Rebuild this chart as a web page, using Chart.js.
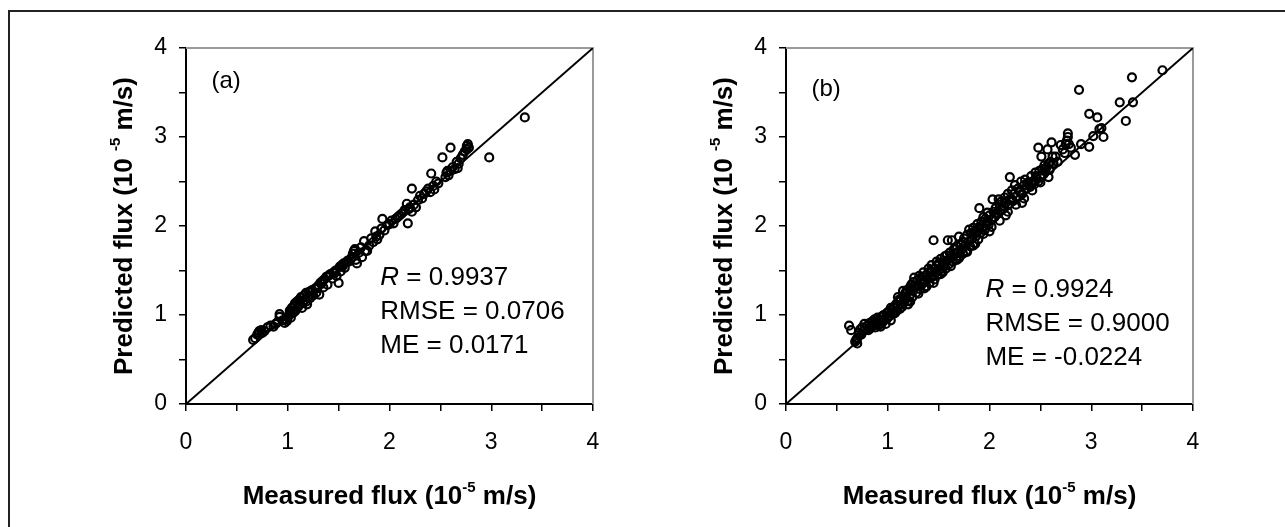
<!DOCTYPE html>
<html>
<head>
<meta charset="utf-8">
<script src="https://cdn.jsdelivr.net/npm/chart.js@4"></script>
<style>
  body { margin: 0; background: #fff; }
  #wrap { position: relative; width: 1285px; height: 527px; overflow: hidden; }
  #frame { position: absolute; left: 8px; top: 10px; width: 1285px; height: 527px;
           border-left: 2px solid #222; border-top: 2px solid #222; }
  canvas { position: absolute; top: 0; }
</style>
</head>
<body>
<div id="wrap">
  <div id="frame"></div>
  <canvas id="chartA" width="640" height="527" style="left:0"></canvas>
  <canvas id="chartB" width="645" height="527" style="left:640px"></canvas>
</div>
<script>
const FONT = '"Liberation Sans", Arial, sans-serif';

// axis range and tick step (units of 1e-5 m/s)
const axisMin = 0;
const axisMax = 4;
const tickStep = 0.5;
const oneToOne = [0, 4];

// panel (a)
const measuredA = [0.66,0.68,0.70,0.71,0.72,0.74,0.75,0.77,0.80,0.83,0.86,0.88,0.90,0.92,0.92,0.95,0.97,0.98,0.99,1.00,
  1.01,1.02,1.03,1.04,1.05,1.06,1.07,1.08,1.09,1.10,1.11,1.12,1.13,1.14,1.15,1.16,1.17,1.18,1.19,1.20,
  1.21,1.22,1.24,1.25,1.27,1.28,1.30,1.31,1.32,1.34,1.35,1.36,1.38,1.39,1.40,1.42,1.44,1.45,1.47,1.48,
  1.50,1.51,1.52,1.53,1.55,1.56,1.58,1.60,1.62,1.64,1.65,1.66,1.67,1.68,1.70,1.72,1.73,1.75,1.76,1.78,
  1.80,1.82,1.84,1.86,1.87,1.88,1.90,1.92,1.93,1.95,1.98,2.00,2.02,2.04,2.06,2.08,2.10,2.12,2.14,2.15,
  2.17,2.18,2.19,2.20,2.22,2.22,2.24,2.26,2.28,2.30,2.32,2.34,2.36,2.38,2.40,2.41,2.43,2.44,2.46,2.48,
  2.52,2.55,2.56,2.58,2.60,2.60,2.62,2.64,2.66,2.68,2.70,2.72,2.74,2.76,2.76,2.77,2.78,2.98,3.33,
  1.03,1.07,1.12,1.18,1.23,1.29,1.33,1.41,1.46,1.54,1.59,1.63,2.57,2.67];
const predictedA = [0.72,0.74,0.78,0.80,0.82,0.83,0.80,0.82,0.86,0.88,0.87,0.90,0.92,0.98,1.01,0.94,0.91,0.95,0.93,0.97,
  1.00,1.05,0.97,1.08,1.02,1.10,1.13,1.06,1.15,1.09,1.17,1.12,1.20,1.08,1.14,1.22,1.17,1.25,1.12,1.20,
  1.26,1.19,1.28,1.22,1.30,1.25,1.33,1.23,1.36,1.38,1.31,1.40,1.43,1.34,1.44,1.46,1.41,1.48,1.50,1.44,
  1.36,1.54,1.49,1.56,1.58,1.53,1.60,1.60,1.63,1.69,1.72,1.74,1.62,1.58,1.70,1.76,1.65,1.83,1.72,1.72,
  1.78,1.86,1.82,1.94,1.88,1.85,1.90,1.97,2.08,1.95,2.01,2.02,2.06,2.03,2.08,2.10,2.12,2.14,2.16,2.18,
  2.25,2.03,2.19,2.21,2.16,2.42,2.24,2.21,2.29,2.34,2.31,2.36,2.39,2.42,2.38,2.59,2.45,2.41,2.50,2.48,
  2.77,2.55,2.60,2.57,2.88,2.62,2.66,2.64,2.72,2.70,2.76,2.80,2.84,2.86,2.90,2.92,2.88,2.77,3.22,
  1.03,1.04,1.16,1.15,1.27,1.30,1.35,1.45,1.47,1.55,1.61,1.65,2.62,2.65];
const statsA = ['0.9937', '0.0706', '0.0171'];

// panel (b)
const measuredB = [0.62,0.64,0.68,0.69,0.70,0.70,0.72,0.73,0.74,0.75,0.76,0.77,0.78,0.80,0.81,0.82,0.84,0.85,0.86,0.87,
  0.88,0.89,0.90,0.91,0.92,0.93,0.94,0.95,0.96,0.97,0.98,0.99,1.00,1.01,1.02,1.03,1.04,1.05,1.06,1.07,
  1.08,1.09,1.10,1.10,1.11,1.12,1.13,1.14,1.15,1.15,1.16,1.17,1.18,1.19,1.20,1.21,1.22,1.23,1.24,1.25,
  1.25,1.26,1.27,1.28,1.29,1.30,1.31,1.32,1.33,1.34,1.35,1.36,1.37,1.38,1.39,1.40,1.41,1.42,1.43,1.44,
  1.45,1.45,1.46,1.47,1.48,1.49,1.50,1.51,1.52,1.53,1.54,1.55,1.56,1.57,1.58,1.59,1.60,1.61,1.62,1.63,
  1.64,1.65,1.66,1.67,1.68,1.69,1.70,1.71,1.72,1.73,1.74,1.75,1.76,1.77,1.78,1.79,1.80,1.81,1.82,1.83,
  1.84,1.85,1.86,1.87,1.88,1.89,1.90,1.90,1.91,1.92,1.93,1.94,1.95,1.96,1.97,1.98,1.99,2.00,2.02,2.03,
  2.04,2.05,2.06,2.08,2.09,2.10,2.11,2.12,2.14,2.15,2.16,2.18,2.19,2.20,2.20,2.22,2.23,2.24,2.25,2.26,
  2.28,2.30,2.31,2.32,2.34,2.35,2.36,2.38,2.40,2.41,2.42,2.44,2.45,2.46,2.48,2.48,2.49,2.50,2.51,2.52,
  2.53,2.54,2.55,2.56,2.57,2.58,2.59,2.60,2.61,2.62,2.63,2.65,2.67,2.70,2.72,2.74,2.75,2.76,2.77,2.77,
  2.78,2.80,2.84,2.88,2.90,2.98,2.98,3.02,3.06,3.08,3.10,3.12,3.28,3.34,3.40,3.41,3.70,
  0.83,0.87,0.91,0.95,0.99,1.03,1.07,1.11,1.14,1.18,1.22,1.26,1.30,1.34,1.38,1.42,1.46,1.50,1.54,1.58,
  1.62,1.66,1.70,1.74,1.78,1.82,1.86,1.90,1.94,1.98,2.02,2.06,2.10,2.14,2.18,2.22,2.26,2.30,2.34,2.38,
  2.42,2.46,2.50,2.54,2.58,2.62,1.20,1.36,1.52,1.68,1.84,2.00,2.16,2.32];
const predictedB = [0.88,0.83,0.70,0.72,0.74,0.68,0.80,0.84,0.78,0.86,0.82,0.90,0.85,0.88,0.83,0.91,0.87,0.93,0.89,0.95,
  0.86,0.92,0.97,0.90,0.94,0.87,0.98,0.92,1.00,0.95,0.90,1.02,0.97,1.04,0.99,0.94,1.06,1.01,1.09,1.03,
  1.12,1.05,1.20,1.10,1.15,1.07,1.18,1.12,1.27,1.21,1.14,1.24,1.18,1.28,1.16,1.30,1.23,1.34,1.20,1.37,
  1.27,1.42,1.31,1.25,1.39,1.33,1.44,1.29,1.40,1.35,1.48,1.38,1.32,1.45,1.41,1.52,1.36,1.47,1.56,1.43,
  1.36,1.84,1.52,1.48,1.60,1.45,1.56,1.51,1.63,1.49,1.58,1.54,1.66,1.52,1.61,1.84,1.57,1.70,1.64,1.84,
  1.60,1.74,1.68,1.63,1.77,1.71,1.88,1.66,1.80,1.74,1.69,1.86,1.78,1.72,1.90,1.82,1.96,1.77,1.92,1.86,
  1.98,1.81,1.94,1.89,2.02,1.85,2.20,1.97,1.92,2.05,1.99,2.10,1.95,2.08,2.03,2.15,2.01,2.12,2.07,2.30,
  2.16,2.10,2.20,2.14,2.30,2.24,2.18,2.28,2.22,2.32,2.26,2.36,2.24,2.55,2.30,2.40,2.28,2.36,2.46,2.33,
  2.42,2.38,2.50,2.36,2.46,2.52,2.42,2.49,2.44,2.56,2.50,2.47,2.60,2.54,2.88,2.50,2.62,2.56,2.78,2.64,
  2.58,2.68,2.61,2.66,2.86,2.70,2.63,2.72,2.94,2.78,2.70,2.78,2.72,2.91,2.86,2.82,2.92,2.96,3.00,3.04,
  2.92,2.88,2.80,3.53,2.92,2.89,3.26,3.01,3.22,3.09,3.10,3.00,3.39,3.18,3.67,3.39,3.75,
  0.85,0.93,0.88,0.99,0.96,1.08,1.02,1.17,1.09,1.26,1.15,1.33,1.24,1.43,1.32,1.50,1.40,1.58,1.48,1.67,
  1.55,1.74,1.64,1.82,1.71,1.92,1.80,1.99,1.91,2.06,1.99,2.14,2.06,2.22,2.16,2.30,2.24,2.40,2.31,2.47,
  2.40,2.56,2.49,2.64,2.55,2.70,1.12,1.30,1.46,1.62,1.78,1.94,2.12,2.26];
const statsB = ['0.9924', '0.9000', '-0.0224'];

function toPoints(xs, ys) {
  return xs.map((x, i) => ({ x: x, y: ys[i] }));
}

// draws a run of text pieces, some raised as superscripts, centred on (cx, cy)
function drawSupText(ctx, parts, cx, cy) {
  let total = 0;
  parts.forEach(p => {
    ctx.font = p.sup ? 'bold 15px ' + FONT : 'bold 26px ' + FONT;
    p.w = ctx.measureText(p.t).width;
    total += p.w;
  });
  let x = cx - total / 2;
  ctx.textAlign = 'left';
  ctx.textBaseline = 'middle';
  parts.forEach(p => {
    ctx.font = p.sup ? 'bold 15px ' + FONT : 'bold 26px ' + FONT;
    ctx.fillText(p.t, x, p.sup ? cy - 9 : cy);
    x += p.w;
  });
}

const decor = {
  id: 'decor',
  beforeDatasetsDraw(chart) {
    const ctx = chart.ctx, a = chart.chartArea;
    ctx.save();
    ctx.strokeStyle = '#9a9a9a';
    ctx.lineWidth = 2;
    ctx.beginPath();
    ctx.moveTo(a.left, a.top);
    ctx.lineTo(a.right, a.top);
    ctx.lineTo(a.right, a.bottom);
    ctx.stroke();
    ctx.restore();
  },
  afterDraw(chart, args, opts) {
    const ctx = chart.ctx, a = chart.chartArea;
    const xs = chart.scales.x, ys = chart.scales.y;
    ctx.save();
    ctx.fillStyle = '#000';

    // panel tag
    ctx.font = '24px ' + FONT;
    ctx.textAlign = 'left';
    ctx.textBaseline = 'middle';
    ctx.fillText(opts.tag, xs.getPixelForValue(opts.tagAt[0]), ys.getPixelForValue(opts.tagAt[1]));

    // statistics block
    const sx = xs.getPixelForValue(opts.statAt[0]);
    let sy = ys.getPixelForValue(opts.statAt[1]);
    ctx.textBaseline = 'alphabetic';
    ctx.font = 'italic 26px ' + FONT;
    ctx.fillText('R', sx, sy);
    const rw = ctx.measureText('R').width;
    ctx.font = '26px ' + FONT;
    ctx.fillText(' = ' + opts.stats[0], sx + rw, sy);
    sy += 34;
    ctx.fillText('RMSE = ' + opts.stats[1], sx, sy);
    sy += 34;
    ctx.fillText('ME = ' + opts.stats[2], sx, sy);

    // axis titles
    drawSupText(ctx, [{ t: 'Measured flux (10' }, { t: '-5', sup: true }, { t: ' m/s)' }],
      (a.left + a.right) / 2, a.bottom + 93);
    ctx.translate(a.left - 61, (a.top + a.bottom) / 2);
    ctx.rotate(-Math.PI / 2);
    drawSupText(ctx, [{ t: 'Predicted flux (10 ' }, { t: '-5', sup: true }, { t: ' m/s)' }], 0, 0);
    ctx.restore();
  }
};

function axis(extra) {
  return Object.assign({
    type: 'linear',
    min: axisMin,
    max: axisMax,
    border: { display: true, color: '#000', width: 2 },
    grid: { drawOnChartArea: false, drawTicks: true, tickLength: 7, color: '#000', lineWidth: 1.5 },
    ticks: {
      stepSize: tickStep,
      autoSkip: false,
      color: '#000',
      font: { family: FONT, size: 23 },
      callback: v => (Number.isInteger(v) ? String(v) : '')
    }
  }, extra);
}

function makeChart(id, xs, ys, yAxisWidth, padRight, opts) {
  const x = axis({ position: 'bottom' });
  x.ticks.padding = 18;
  x.afterFit = s => { s.height = 123; };
  const y = axis({ position: 'left' });
  y.ticks.padding = 12;
  y.afterFit = s => { s.width = yAxisWidth; };

  return new Chart(document.getElementById(id), {
    type: 'scatter',
    data: {
      datasets: [
        {
          data: toPoints(oneToOne, oneToOne),
          showLine: true,
          borderColor: '#000',
          borderWidth: 2,
          pointRadius: 0
        },
        {
          data: toPoints(xs, ys),
          pointStyle: 'circle',
          pointRadius: 4,
          backgroundColor: 'rgba(0,0,0,0)',
          borderColor: '#000',
          borderWidth: 2.2
        }
      ]
    },
    options: {
      responsive: false,
      animation: false,
      devicePixelRatio: 1,
      layout: { padding: { left: 0, top: 48, right: padRight, bottom: 0 } },
      scales: { x: x, y: y },
      plugins: { legend: { display: false }, tooltip: { enabled: false }, decor: opts }
    },
    plugins: [decor]
  });
}

makeChart('chartA', measuredA, predictedA, 186, 47,
  { tag: '(a)', tagAt: [0.25, 3.62], stats: statsA, statAt: [1.91, 1.34] });
makeChart('chartB', measuredB, predictedB, 146, 92,
  { tag: '(b)', tagAt: [0.25, 3.53], stats: statsB, statAt: [1.96, 1.20] });
</script>
</body>
</html>
